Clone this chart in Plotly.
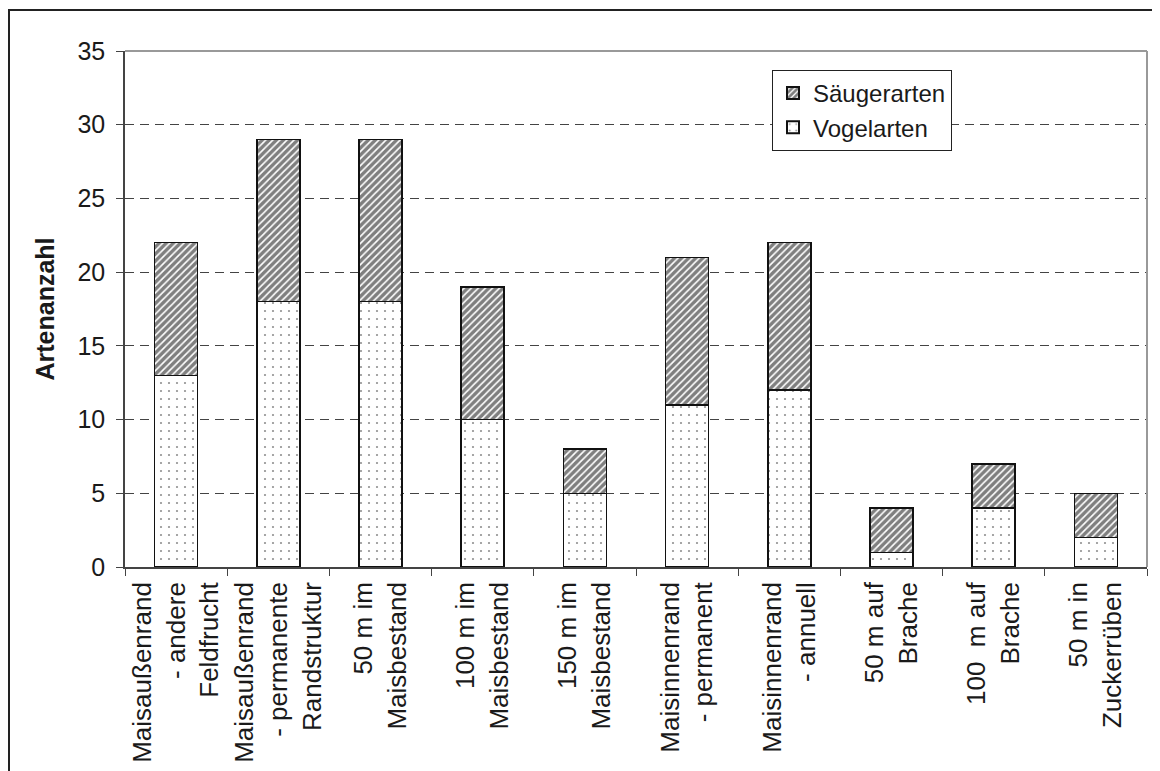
import plotly.graph_objects as go

categories = [
    "Maisaußenrand<br>- andere<br>Feldfrucht",
    "Maisaußenrand<br>- permanente<br>Randstruktur",
    "50 m im<br>Maisbestand",
    "100 m im<br>Maisbestand",
    "150 m im<br>Maisbestand",
    "Maisinnenrand<br>- permanent",
    "Maisinnenrand<br>- annuell",
    "50 m auf<br>Brache",
    "100\u00a0 m auf<br>Brache",
    "50 m in<br>Zuckerrüben",
]
vogelarten = [13, 18, 18, 10, 5, 11, 12, 1, 4, 2]
saeugerarten = [9, 11, 11, 9, 3, 10, 10, 3, 3, 3]
y_ticks = [0, 5, 10, 15, 20, 25, 30, 35]

FONT = "Liberation Sans, Arial, sans-serif"
OFF = 8  # page body margin
W, H = 1160 - OFF, 771 - OFF
L, R, T, B = 125 - OFF, 1160 - 1147, 51 - OFF, 771 - 567
pw, ph = W - L - R, H - T - B

def px(x):
    return (x - OFF - L) / pw

def py(y):
    return (H - B - (y - OFF)) / ph

fig = go.Figure()
fig.add_trace(go.Bar(
    x=categories, y=vogelarten, name="Vogelarten",
    marker=dict(color="white", line=dict(color="#111", width=1.5),
                pattern=dict(shape=".", fgcolor="#222", bgcolor="white",
                             size=8, solidity=0.06)),
))
fig.add_trace(go.Bar(
    x=categories, y=saeugerarten, name="Säugerarten",
    marker=dict(color="white", line=dict(color="#111", width=1.5),
                pattern=dict(shape="/", fgcolor="#000", bgcolor="white",
                             size=5, solidity=0.68)),
))

fig.update_layout(
    width=W, height=H,
    barmode="stack", bargap=0.58,
    margin=dict(l=L, r=R, t=T, b=B, autoexpand=False),
    paper_bgcolor="white", plot_bgcolor="white",
    font=dict(family=FONT, color="#1a1a1a", size=24),
    showlegend=True,
    legend=dict(x=px(772), y=py(70), xanchor="left", yanchor="top",
                bgcolor="white", bordercolor="#222", borderwidth=1,
                font=dict(size=24, family=FONT), traceorder="reversed",
                itemsizing="constant", itemwidth=30),
    xaxis=dict(
        type="category", showline=True, linecolor="#444", linewidth=1.5,
        ticks="outside", tickson="boundaries", ticklen=7, tickcolor="#444",
        tickangle=-90, tickfont=dict(size=26, family=FONT, color="#1a1a1a"),
        showgrid=False, ticklabelstandoff=3,
    ),
    yaxis=dict(
        range=[0, 35], tickvals=y_ticks, showline=True, linecolor="#444",
        linewidth=1.5, ticks="outside", ticklen=7, tickcolor="#444",
        tickfont=dict(size=25, family=FONT, color="#1a1a1a"),
        showgrid=True, gridcolor="#444", gridwidth=1, griddash="9px,6px",
        zeroline=False, ticklabelstandoff=6,
        title=dict(text="<b>Artenanzahl</b>", font=dict(size=25, family=FONT,
                                                       color="#1a1a1a"),
                   standoff=16),
    ),
    shapes=[
        dict(type="line", xref="paper", yref="paper", x0=0, x1=1, y0=1, y1=1,
             line=dict(color="#999", width=2)),
        dict(type="line", xref="paper", yref="paper", x0=1, x1=1, y0=0, y1=1,
             line=dict(color="#999", width=2)),
        dict(type="rect", xref="paper", yref="paper",
             x0=px(9), x1=px(1159), y0=py(790), y1=py(10),
             line=dict(color="#222", width=2), fillcolor="rgba(0,0,0,0)"),
    ],
)

fig.write_html("out.html")
